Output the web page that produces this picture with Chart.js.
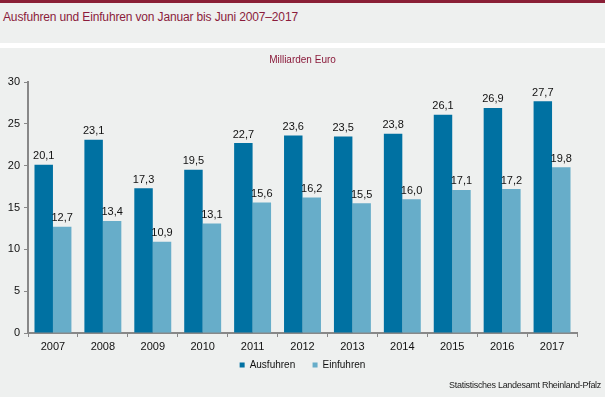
<!DOCTYPE html>
<html>
<head>
<meta charset="utf-8">
<script src="https://cdn.jsdelivr.net/npm/chart.js@4"></script>
<style>
  body { margin: 0; background: #eef0ef; font-family: "Liberation Sans", Arial, sans-serif; }
  #wrap { position: relative; width: 605px; height: 397px; overflow: hidden; }
  #topbar { position: absolute; left: 0; top: 0; width: 605px; height: 3px; background: #8a1f36; }
  #title { position: absolute; left: 3px; top: 10px; font-size: 12px; letter-spacing: -0.15px; color: #8b1c3c; white-space: nowrap; }
  #sep { position: absolute; left: 0; top: 43px; width: 605px; height: 5px; background: #ffffff; }
  #unit { position: absolute; left: 0; width: 605px; top: 54px; text-align: center; font-size: 10px; color: #8b1c3c; }
  #box { position: absolute; left: 0; top: 48px; width: 605px; height: 349px; }
  #source { position: absolute; right: 4px; top: 380px; font-size: 9px; color: #222; letter-spacing: -0.3px; white-space: nowrap; }
</style>
</head>
<body>
<div id="wrap">
  <div id="topbar"></div>
  <div id="title">Ausfuhren und Einfuhren von Januar bis Juni 2007–2017</div>
  <div id="sep"></div>
  <div id="box"><canvas id="myChart"></canvas></div>
  <div id="unit">Milliarden Euro</div>
  <div id="source">Statistisches Landesamt Rheinland-Pfalz</div>
</div>
<script>
// Daten
const years = ['2007', '2008', '2009', '2010', '2011', '2012', '2013', '2014', '2015', '2016', '2017'];
const ausfuhren = [20.1, 23.1, 17.3, 19.5, 22.7, 23.6, 23.5, 23.8, 26.1, 26.9, 27.7];
const einfuhren = [12.7, 13.4, 10.9, 13.1, 15.6, 16.2, 15.5, 16.0, 17.1, 17.2, 19.8];
const yTicks = [0, 5, 10, 15, 20, 25, 30];

const font = "'Liberation Sans', Arial, sans-serif";

// Werte ueber den Balken
const valueLabels = {
    id: 'valueLabels',
    afterDatasetsDraw(chart) {
        const ctx = chart.ctx;
        ctx.save();
        ctx.font = '11px ' + font;
        ctx.fillStyle = '#111';
        ctx.textAlign = 'center';
        ctx.textBaseline = 'bottom';
        chart.data.datasets.forEach(function (ds, i) {
            chart.getDatasetMeta(i).data.forEach(function (bar, j) {
                const txt = ds.data[j].toFixed(1).replace('.', ',');
                ctx.fillText(txt, bar.x, bar.y - 3);
            });
        });
        ctx.restore();
    }
};

// Legende etwas nach rechts schieben (Mitte der ganzen Grafik)
const legendShift = {
    id: 'legendShift',
    afterLayout(chart) {
        chart.legend.left += 14;
        chart.legend.right += 14;
    }
};

const ctx = document.getElementById('myChart').getContext('2d');
const myChart = new Chart(ctx, {
    type: 'bar',
    data: {
        labels: years,
        datasets: [{
            label: 'Ausfuhren',
            data: ausfuhren,
            backgroundColor: '#0071a2'
        }, {
            label: 'Einfuhren',
            data: einfuhren,
            backgroundColor: '#67adc9'
        }]
    },
    options: {
        responsive: true,
        maintainAspectRatio: false,
        animation: false,
        categoryPercentage: 0.74,
        barPercentage: 1,
        layout: { padding: { top: 34, right: 28, left: 0, bottom: 17 } },
        plugins: {
            legend: {
                position: 'bottom',
                labels: {
                    font: { family: font, size: 10 },
                    color: '#111',
                    boxWidth: 5,
                    boxHeight: 5,
                    padding: 9,
                    generateLabels(chart) {
                        const items = Chart.defaults.plugins.legend.labels.generateLabels(chart);
                        items[0].text = items[0].text + '   ';
                        return items;
                    }
                }
            },
            tooltip: { enabled: false }
        },
        scales: {
            x: {
                grid: { drawOnChartArea: false, tickLength: 4, color: '#888', tickWidth: 1 },
                border: { color: '#888', width: 2 },
                ticks: { font: { family: font, size: 11 }, color: '#111', padding: 3 },
                afterFit(scale) { scale.height = 18; }
            },
            y: {
                min: 0,
                max: 30,
                afterBuildTicks(scale) { scale.ticks = yTicks.map(v => ({ value: v })); },
                grid: { drawOnChartArea: false, tickLength: 4, color: '#888' },
                border: { color: '#888', width: 2 },
                ticks: { font: { family: font, size: 11 }, color: '#111', padding: 4 },
                afterFit(scale) { scale.width = 28; }
            }
        }
    },
    plugins: [valueLabels, legendShift]
});
</script>
</body>
</html>
